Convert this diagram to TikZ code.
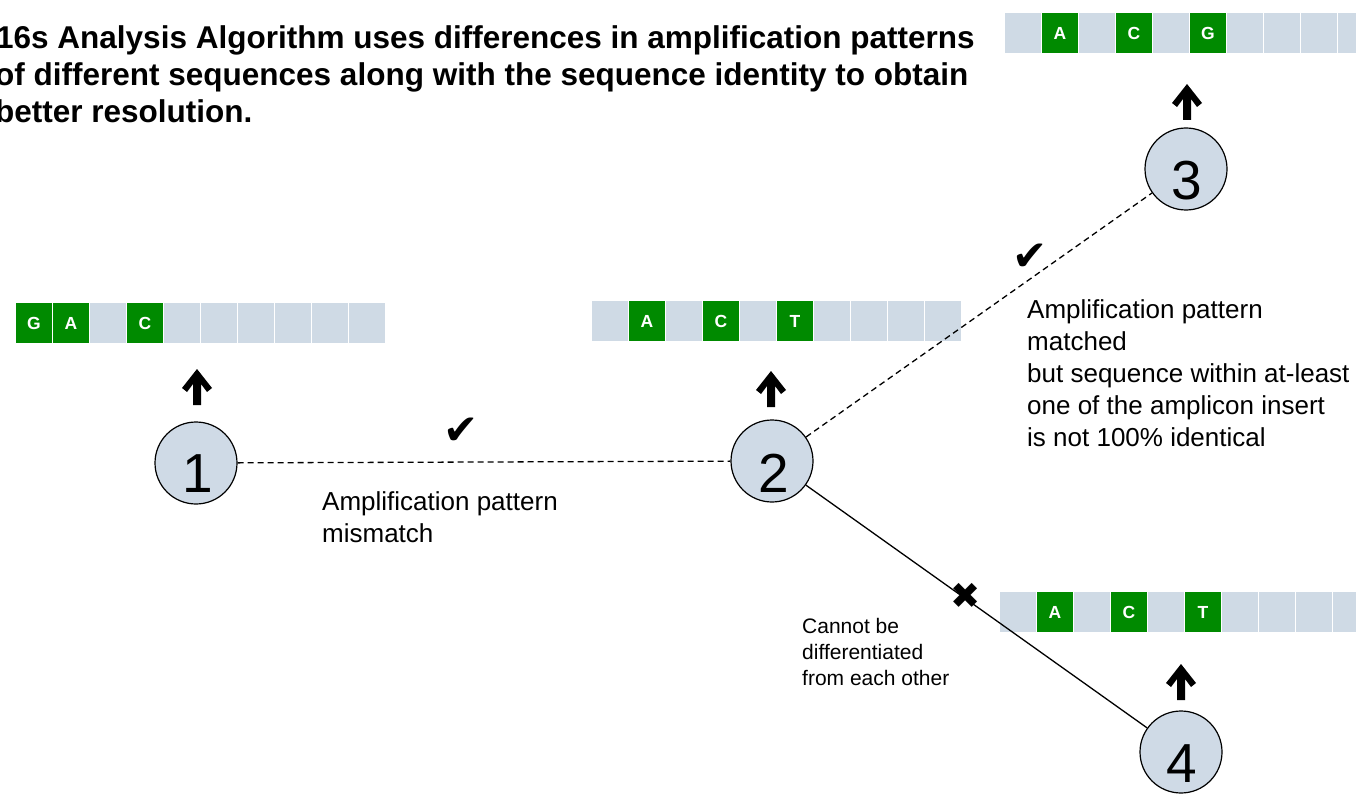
\documentclass[tikz,border=0pt]{standalone}
\usepackage{fontspec}
\setmainfont{Liberation Sans}
\newfontfamily\symfont{DejaVu Sans}
\definecolor{seqgreen}{RGB}{0,138,0}
\definecolor{seqgrey}{RGB}{207,218,229}
\definecolor{circfill}{RGB}{207,218,230}
\tikzset{
  cell/.style={anchor=north west, inner sep=0pt, minimum width=35.5pt, minimum height=40pt, fill=seqgrey},
  hit/.style={cell, fill=seqgreen, text=white, font=\bfseries\fontsize{17.5}{17.5}\selectfont},
  numcirc/.style={circle, draw=black, line width=1.2pt, fill=circfill, minimum size=82pt, inner sep=0pt},
  numtext/.style={anchor=base, inner sep=0pt, font=\fontsize{55}{55}\selectfont},
  label/.style={anchor=base west, inner sep=0pt, font=\fontsize{26}{26}\selectfont},
  small/.style={anchor=base west, inner sep=0pt, font=\fontsize{21}{21}\selectfont},
  titleline/.style={anchor=base west, inner sep=0pt, font=\bfseries\fontsize{31.5}{31.5}\selectfont},
  link/.style={line width=1.3pt},
  dashlink/.style={link, dash pattern=on 6pt off 4pt},
  okmark/.style={font=\symfont\fontsize{42}{42}\selectfont},
  nomark/.style={font=\symfont\fontsize{36}{36}\selectfont},
}
\newcommand{\uparrowshape}[2]{%
  \fill[black] (#1,#2) -- ++(15,19) -- ++(-5,4) -- ++(-6,-8) -- ++(0,21) -- ++(-8,0) -- ++(0,-21) -- ++(-6,8) -- ++(-5,-4) -- cycle;}
\begin{document}
\begin{tikzpicture}[x=1pt,y=-1pt]
\useasboundingbox (0,0) rectangle (1356,794);
% title
\node[titleline] (t1) at (-4,49) {16s Analysis Algorithm uses differences in amplification patterns};
\node[titleline] (t2) at (-5,86) {of different sequences along with the sequence identity to obtain};
\node[titleline] (t3) at (-5,123) {better resolution.};
% sequence bars
\foreach \i in {0,...,9} \node[cell] (s1-\i) at (16+37*\i,303) {};
\node[hit] at (16,303) {G};
\node[hit] at (53,303) {A};
\node[hit] at (127,303) {C};
\foreach \i in {0,...,9} \node[cell] (s2-\i) at (592+37*\i,301) {};
\node[hit] at (629,301) {A};
\node[hit] at (703,301) {C};
\node[hit] at (777,301) {T};
\foreach \i in {0,...,9} \node[cell] (s3-\i) at (1005+37*\i,13) {};
\node[hit] at (1042,13) {A};
\node[hit] at (1116,13) {C};
\node[hit] at (1190,13) {G};
\foreach \i in {0,...,9} \node[cell] (s4-\i) at (1000+37*\i,592) {};
\node[hit] at (1037,592) {A};
\node[hit] at (1111,592) {C};
\node[hit] at (1185,592) {T};
% up arrows
\uparrowshape{197}{369}
\uparrowshape{771}{371}
\uparrowshape{1187}{84}
\uparrowshape{1181}{664}
% circles
\node[numcirc] (c1) at (196,463) {};
\node[numcirc] (c2) at (772,461) {};
\node[numcirc] (c3) at (1186,169) {};
\node[numcirc] (c4) at (1181,752) {};
\node[numtext] at (198,492) {1};
\node[numtext] at (774,492) {2};
\node[numtext] at (1187,200) {3};
\node[numtext] at (1182,782) {4};
% connectors
\draw[dashlink] (c1) -- (c2);
\draw[dashlink] (c2) -- (c3);
\draw[link] (c2) -- (c4);
% marks
\node[okmark] (m1) at (461,431) {✔};
\node[okmark] (m2) at (1030,257) {✔};
\node[nomark] (m3) at (966,596) {✖};
% labels
\node[label] (l1) at (322,510) {Amplification pattern};
\node[label] (l2) at (322,542) {mismatch};
\node[label] (r1) at (1027,318) {Amplification pattern};
\node[label] (r2) at (1027,350) {matched};
\node[label] (r3) at (1027,382) {but sequence within at-least};
\node[label] (r4) at (1027,414) {one of the amplicon insert};
\node[label] (r5) at (1027,446) {is not 100\% identical};
\node[small] (d1) at (802,633) {Cannot be};
\node[small] (d2) at (802,659) {differentiated};
\node[small] (d3) at (802,685) {from each other};
\end{tikzpicture}
\end{document}
